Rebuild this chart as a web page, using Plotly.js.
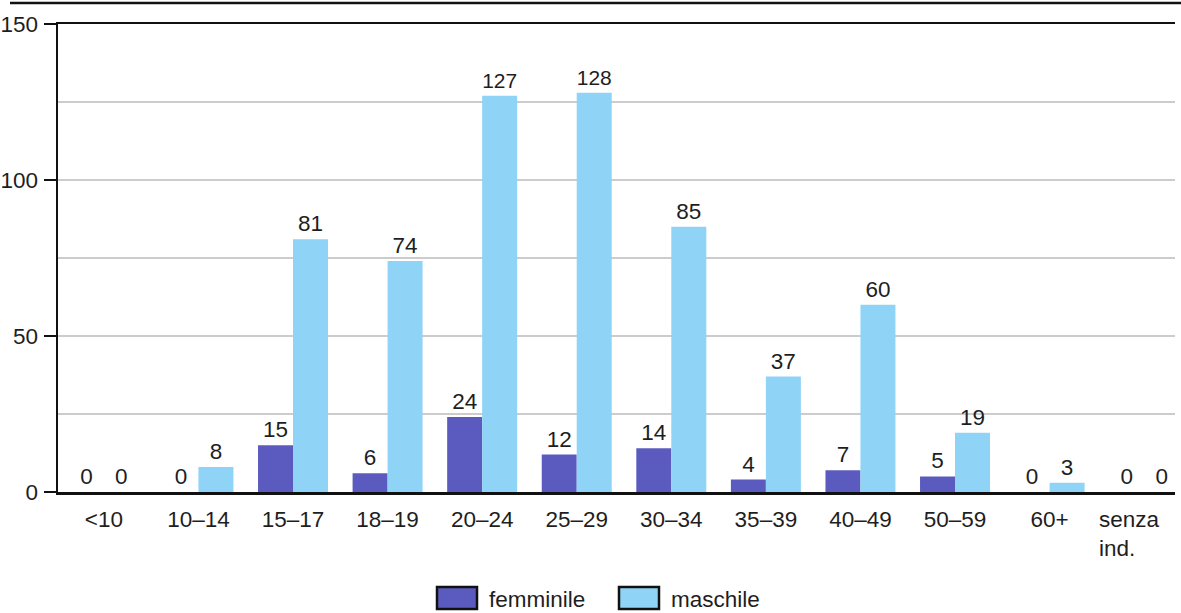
<!DOCTYPE html>
<html>
<head>
<meta charset="utf-8">
<script src="https://cdn.plot.ly/plotly-3.0.1.min.js"></script>
<style>html,body{margin:0;padding:0;background:#fff;}#chart{width:1181px;height:613px;}</style>
</head>
<body>
<div id="chart"></div>
<script>
var categories = ["<10", "10–14", "15–17", "18–19", "20–24", "25–29", "30–34", "35–39", "40–49", "50–59", "60+", "senza<br>ind."];
var femminile = [0, 0, 15, 6, 24, 12, 14, 4, 7, 5, 0, 0];
var maschile = [0, 8, 81, 74, 127, 128, 85, 37, 60, 19, 3, 0];
var seriesNames = ["femminile", "maschile"];
var yTicks = [0, 50, 100, 150];

var colF = "#5b5bbf", colM = "#8fd3f7";
var font = "Liberation Sans, Arial, sans-serif";
var fs = 22.5;
var txt = "#1e1e1e";

var traces = [
  {type: "bar", name: seriesNames[0], x: categories, y: femminile, text: femminile.map(String),
   textposition: "outside", cliponaxis: false, textfont: {size: fs, color: txt, family: font},
   marker: {color: colF, line: {width: 0}}},
  {type: "bar", name: seriesNames[1], x: categories, y: maschile, text: maschile.map(String),
   textposition: "outside", cliponaxis: false, textfont: {size: fs, color: txt, family: font},
   marker: {color: colM, line: {width: 0}}}
];

var L = 58, T = 24, W = 1181, H = 613, R = 6, B = 121;
var pw = W - L - R, ph = H - T - B;
function px(x) { return (x - L) / pw; }
function py(y) { return 1 - (y - T) / ph; }

var lastCat = categories[categories.length - 1];
var tickText = categories.map(function (c) { return c === lastCat ? "" : c; });

var shapes = [
  {type: "line", xref: "paper", yref: "paper", x0: px(10), x1: px(1181), y0: py(3), y1: py(3), line: {color: "#111", width: 2.5}},
  {type: "rect", xref: "paper", yref: "paper", x0: px(437), x1: px(477), y0: py(609), y1: py(587), fillcolor: colF, line: {color: "#111", width: 2.5}},
  {type: "rect", xref: "paper", yref: "paper", x0: px(619), x1: px(659), y0: py(609), y1: py(587), fillcolor: colM, line: {color: "#111", width: 2.5}}
];
var annotations = [
  {xref: "paper", yref: "paper", x: px(487), y: py(599), xanchor: "left", yanchor: "middle", text: seriesNames[0], showarrow: false, font: {size: fs, color: txt, family: font}},
  {xref: "paper", yref: "paper", x: px(669), y: py(599), xanchor: "left", yanchor: "middle", text: seriesNames[1], showarrow: false, font: {size: fs, color: txt, family: font}},
  {xref: "x", yref: "paper", x: lastCat, xshift: -47, y: py(505), xanchor: "left", yanchor: "top", align: "left", text: lastCat, showarrow: false, font: {size: fs, color: txt, family: font}}
];

var layout = {
  width: W, height: H,
  margin: {l: L, r: R, t: T, b: B, pad: 0},
  paper_bgcolor: "#fff", plot_bgcolor: "#fff",
  barmode: "group", bargap: 0.26, bargroupgap: 0,
  showlegend: false,
  font: {family: font, size: fs, color: txt},
  xaxis: {type: "category", range: [-0.485, 11.326], tickvals: categories, ticktext: tickText,
          showline: true, linecolor: "#111", linewidth: 2.5, mirror: true,
          ticks: "", tickfont: {size: fs, color: txt}, ticklabelstandoff: 5, showgrid: false, zeroline: false, fixedrange: true},
  yaxis: {range: [0, 150], tickvals: yTicks, ticktext: yTicks.map(String), showline: true, linecolor: "#111", linewidth: 2.5,
          ticks: "outside", ticklen: 12, tickwidth: 2.5, tickcolor: "#111", tickfont: {size: fs, color: txt}, ticklabelstandoff: 1,
          showgrid: false, zeroline: false, fixedrange: true,
          minor: {dtick: 25, showgrid: true, gridcolor: "#cccccc", gridwidth: 1.2, ticks: ""}},
  shapes: shapes, annotations: annotations
};

Plotly.newPlot("chart", traces, layout, {displayModeBar: false, staticPlot: true});
</script>
</body>
</html>
